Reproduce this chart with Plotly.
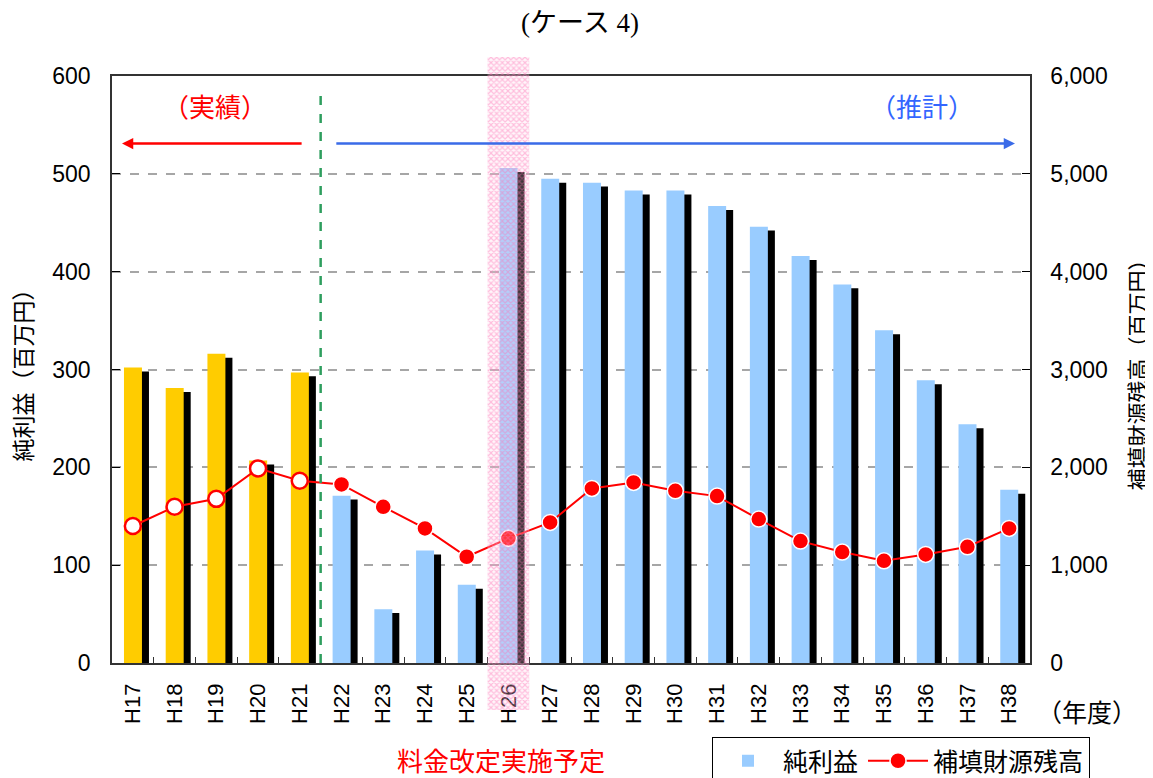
import plotly.graph_objects as go

# ---------------- data ----------------
years = ["H17", "H18", "H19", "H20", "H21", "H22", "H23", "H24", "H25", "H26", "H27",
         "H28", "H29", "H30", "H31", "H32", "H33", "H34", "H35", "H36", "H37", "H38"]
status = ["実績", "実績", "実績", "実績", "実績", "推計", "推計", "推計", "推計", "推計", "推計",
          "推計", "推計", "推計", "推計", "推計", "推計", "推計", "推計", "推計", "推計", "推計"]
net_income = [302, 281, 316, 207, 297, 171, 55, 115, 80, 506, 495,
              491, 483, 483, 467, 446, 416, 387, 340, 289, 244, 177]
reserve_balance = [1400, 1597, 1678, 1989, 1862, 1825, 1597, 1376, 1086, 1274, 1437,
                   1784, 1846, 1760, 1706, 1471, 1246, 1134, 1045, 1110, 1188, 1376]
revision_year = "H26"

FONT = "Liberation Sans, Noto Sans CJK JP, sans-serif"
W, H = 1153, 778
PAGE = 8  # body margin of the html page
# plot area in page pixels
P_LEFT, P_RIGHT, P_TOP, P_BOT = 112, 1030, 76, 663
PAPER_TOP, PAPER_BOT = 57, 710

ML = P_LEFT - PAGE
MR = W - (P_RIGHT - PAGE)
MT = PAPER_TOP - PAGE
MB = H - (PAPER_BOT - PAGE)
PW, PH = W - ML - MR, H - MT - MB


def py(p):  # page pixel y -> paper y
    return (H - MB - (p - PAGE)) / PH


def pxx(p):  # page pixel x -> paper x
    return (p - PAGE - ML) / PW


actual_vals = [v if s == "実績" else None for v, s in zip(net_income, status)]
plan_vals = [v if s == "推計" else None for v, s in zip(net_income, status)]
actual_res = [v if s == "実績" else None for v, s in zip(reserve_balance, status)]

BW = 0.431
OFF = -0.213
SHIFT = 0.168

fig = go.Figure()

# shadow bars
fig.add_trace(go.Bar(x=years, y=net_income, base=-4, width=BW, offset=OFF + SHIFT,
                     marker=dict(color="black", line=dict(width=0)),
                     showlegend=False, hoverinfo="skip"))
# actual bars (yellow)
fig.add_trace(go.Bar(x=years, y=actual_vals, width=BW, offset=OFF,
                     marker=dict(color="#FFCC00", line=dict(width=0)),
                     showlegend=False, name="純利益（実績）"))
# forecast bars (light blue)
fig.add_trace(go.Bar(x=years, y=plan_vals, width=BW, offset=OFF,
                     marker=dict(color="#99CCFF", line=dict(width=0)),
                     name="純利益"))
# reserve balance line
fig.add_trace(go.Scatter(x=years, y=reserve_balance, yaxis="y2", mode="lines+markers",
                         line=dict(color="#FF0000", width=2),
                         marker=dict(size=16, color="#FF0000", line=dict(color="white", width=1.5)),
                         name="補填財源残高"))
# actual markers (open)
fig.add_trace(go.Scatter(x=years, y=actual_res, yaxis="y2", mode="markers",
                         marker=dict(size=16, color="white", line=dict(color="#FF0000", width=2.5)),
                         showlegend=False, hoverinfo="skip"))
# revision-year highlight (hatched band)
fig.add_trace(go.Bar(x=[revision_year], y=[1], width=1, xaxis="x3", yaxis="y3",
                     marker=dict(color="rgba(255,170,210,0.2)", line=dict(width=0),
                                 pattern=dict(shape="x", size=4, solidity=0.5,
                                              fgcolor="rgba(255,110,180,0.85)",
                                              bgcolor="rgba(255,220,235,0.25)")),
                     showlegend=False, hoverinfo="skip"))

main_dom = [py(P_BOT), py(P_TOP)]

fig.update_layout(
    width=W, height=H,
    margin=dict(l=ML, r=MR, t=MT, b=MB, autoexpand=False),
    paper_bgcolor="white", plot_bgcolor="rgba(0,0,0,0)",
    barmode="overlay",
    font=dict(family=FONT, size=22, color="black"),
    title=dict(text="(ケース 4)", x=(580 - PAGE) / W, xanchor="center",
               y=1 - 15 / H, yanchor="middle",
               font=dict(family="Liberation Serif, Noto Sans CJK JP, serif", size=27, color="black")),
    xaxis=dict(type="category", domain=[0, 1], range=[-0.5, 21.5], automargin=False,
               showline=True, linecolor="#333333", linewidth=1.5, mirror=True,
               ticks="inside", ticklen=6, tickcolor="#333333", tickson="boundaries",
               tickangle=-90, ticklabelstandoff=10, showgrid=False,
               tickfont=dict(size=22)),
    yaxis=dict(domain=main_dom, range=[0, 600], dtick=100, automargin=False,
               showline=True, linecolor="#333333", linewidth=1.5,
               ticks="inside", ticklen=8, tickcolor="black",
               ticklabelstandoff=15,
               showgrid=True, gridcolor="#A6A6A6", griddash="dash", gridwidth=1.5,
               zeroline=False, tickfont=dict(size=23),
               title=dict(text="純利益（百万円）", standoff=13, font=dict(size=23))),
    yaxis2=dict(overlaying="y", side="right", range=[0, 6000], dtick=1000, automargin=False,
                tickformat=",", showline=True, linecolor="#333333", linewidth=1.5,
                ticks="inside", ticklen=8, tickcolor="black",
                ticklabelstandoff=14, showgrid=False, zeroline=False,
                tickfont=dict(size=23),
                title=dict(text="補填財源残高（百万円）", standoff=24, font=dict(size=22))),
    xaxis3=dict(type="category", categoryorder="array", categoryarray=years,
                domain=[0, 1], range=[-0.5, 21.5], anchor="y3", automargin=False,
                visible=False, showgrid=False, fixedrange=True),
    yaxis3=dict(domain=[0, 1], range=[0, 1], anchor="x3", automargin=False,
                visible=False, showgrid=False, fixedrange=True),
    legend=dict(orientation="h", xref="container", yref="container",
                x=(712 - PAGE) / W, xanchor="left", y=1 - (737 - PAGE) / H, yanchor="top",
                bordercolor="black", borderwidth=1, bgcolor="white",
                font=dict(size=25), itemwidth=60, traceorder="normal"),
)

# boundary between actual and forecast (dashed green line)
fig.add_shape(type="line", xref="x", yref="y", x0=4.5, x1=4.5, y0=0, y1=587,
              line=dict(color="#2E9E5E", width=2.5, dash="dash"))

# arrows
fig.add_annotation(xref="x", yref="y", axref="x", ayref="y",
                   x=-0.26, y=531, ax=4.08, ay=531, text="", showarrow=True,
                   arrowhead=2, arrowsize=0.9, arrowwidth=2.5, arrowcolor="#FF0000")
fig.add_annotation(xref="x", yref="y", axref="x", ayref="y",
                   x=21.14, y=531, ax=4.84, ay=531, text="", showarrow=True,
                   arrowhead=2, arrowsize=0.9, arrowwidth=2.5, arrowcolor="#3A6BE8")
fig.add_annotation(xref="x", yref="y", x=1.97, y=567, text="（実績）", showarrow=False,
                   xanchor="center", yanchor="middle",
                   font=dict(size=26, color="#FF0000"))
fig.add_annotation(xref="x", yref="y", x=18.91, y=567, text="（推計）", showarrow=False,
                   xanchor="center", yanchor="middle",
                   font=dict(size=26, color="#3366FF"))

fig.add_annotation(xref="paper", yref="paper", x=pxx(1087), y=py(713), text="（年度）",
                   xanchor="center", yanchor="middle",
                   showarrow=False, font=dict(size=25, color="black"))
fig.add_annotation(xref="paper", yref="paper", x=pxx(501), y=py(762), text="料金改定実施予定",
                   xanchor="center", yanchor="middle",
                   showarrow=False, font=dict(size=26, color="#FF0000"))

fig.write_html("out.html")
